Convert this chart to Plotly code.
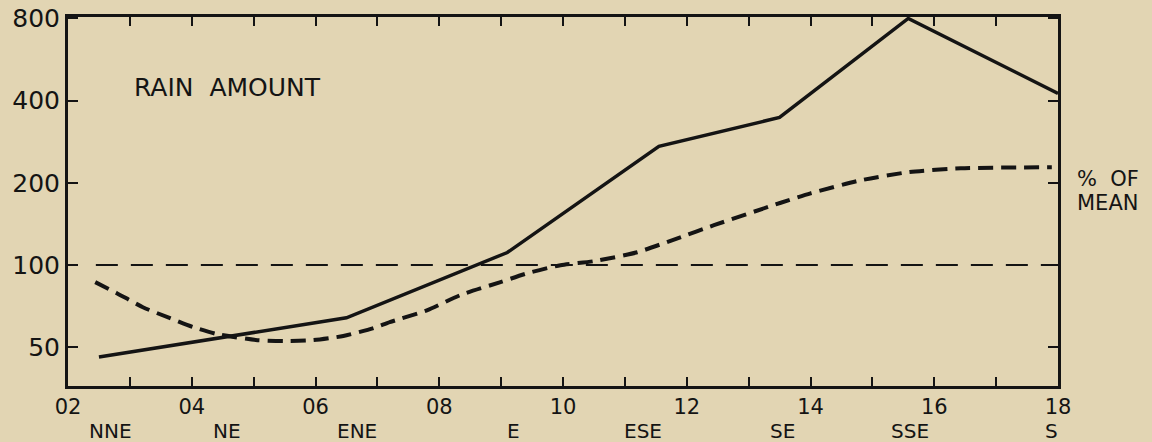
import plotly.graph_objects as go
import math

# ---- data ----
solid_x = [2.5, 6.5, 9.1, 11.55, 13.5, 15.58, 18.0]
solid_y = [46, 64, 111, 272, 347, 800, 425]

dashed_x = [2.44, 2.79, 3.21, 3.65, 4.02, 4.41, 5.06, 5.48, 5.96, 6.45, 6.94,
            7.2, 7.81, 8.34, 8.99, 9.43, 9.96, 10.5, 11.2, 11.85, 12.44,
            13.52, 14.0, 14.8, 15.6, 16.43, 17.9]
dashed_y = [86.5, 78.8, 70, 63.8, 59.2, 55.8, 53, 52.6, 53, 54.9, 58.7,
            61.7, 68.3, 77.5, 86.5, 93.3, 99.8, 103.2, 111.3, 125.2, 139.8,
            169, 183, 204, 219, 226, 228]

mean_x = [2.45, 17.85]
mean_y = [100, 100]

x_tickvals = [2, 4, 6, 8, 10, 12, 14, 16, 18]
x_ticktext = ["02", "04", "06", "08", "10", "12", "14", "16", "18"]
y_tickvals = [50, 100, 200, 400, 800]
y_ticktext = ["50", "100", "200", "400", "800"]

dir_names = ["NNE", "NE", "ENE", "E", "ESE", "SE", "SSE", "S"]
dir_pos = [2.68, 4.57, 6.67, 9.2, 11.3, 13.55, 15.6, 17.9]

BG = "#e2d5b3"
INK = "#141414"
FONT = "DejaVu Sans"

fig = go.Figure()
fig.add_trace(go.Scatter(x=mean_x, y=mean_y, mode="lines",
                         line=dict(color=INK, width=2, dash="22px,13px"),
                         hoverinfo="skip", showlegend=False))
fig.add_trace(go.Scatter(x=dashed_x, y=dashed_y, mode="lines",
                         line=dict(color=INK, width=4, dash="15px,8px",
                                   shape="spline", smoothing=0.6),
                         showlegend=False))
fig.add_trace(go.Scatter(x=solid_x, y=solid_y, mode="lines",
                         line=dict(color=INK, width=3.5),
                         showlegend=False))

fig.update_layout(
    width=1152, height=442,
    margin=dict(l=68, r=94, t=17, b=56, autoexpand=False),
    paper_bgcolor=BG, plot_bgcolor=BG,
    font=dict(family=FONT, color=INK),
    xaxis=dict(range=[2, 18], tickvals=x_tickvals, ticktext=x_ticktext,
               automargin=False,
               ticks="inside", ticklen=9, tickwidth=2, tickcolor=INK,
               showline=True, linewidth=3, linecolor=INK, mirror="ticks",
               showgrid=False, zeroline=False, ticklabelstandoff=0,
               tickfont=dict(size=21, family=FONT, color=INK),
               minor=dict(dtick=1, ticks="inside", ticklen=9, tickwidth=2,
                          tickcolor=INK, showgrid=False)),
    yaxis=dict(type="log", range=[math.log10(36), math.log10(810)],
               tickvals=y_tickvals, ticktext=y_ticktext, automargin=False,
               ticks="inside", ticklen=10, tickwidth=2, tickcolor=INK,
               showline=True, linewidth=3, linecolor=INK, mirror="ticks",
               showgrid=False, zeroline=False,
               tickfont=dict(size=25, family=FONT, color=INK)),
)

for name, xp in zip(dir_names, dir_pos):
    fig.add_annotation(x=xp, y=0, xref="x", yref="paper", yanchor="top",
                       yshift=-31, text=name, showarrow=False,
                       font=dict(size=20, family=FONT, color=INK))

fig.add_annotation(x=0.0646, y=0.81, xref="paper", yref="paper",
                   xanchor="left", yanchor="middle", text="RAIN  AMOUNT",
                   showarrow=False, font=dict(size=25, family=FONT, color=INK))
fig.add_annotation(x=1.017, y=0.56, xref="paper", yref="paper",
                   xanchor="left", yanchor="middle", text="%  OF",
                   showarrow=False, font=dict(size=21, family=FONT, color=INK))
fig.add_annotation(x=1.017, y=0.497, xref="paper", yref="paper",
                   xanchor="left", yanchor="middle", text="MEAN",
                   showarrow=False, font=dict(size=21, family=FONT, color=INK))

fig.write_html("out.html", config={"displayModeBar": False},
               post_script="document.body.style.margin='0';document.body.style.overflow='hidden';")
